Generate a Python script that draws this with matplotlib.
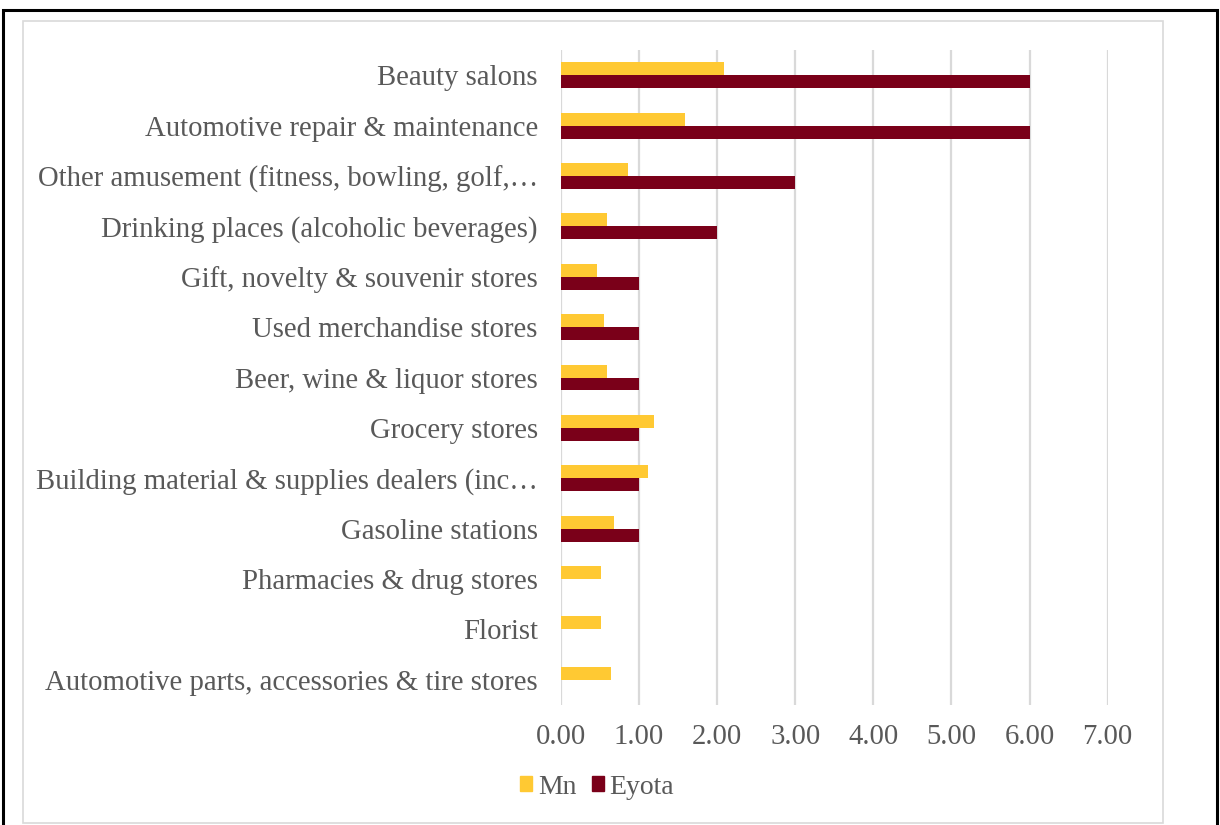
import matplotlib.pyplot as plt
import numpy as np
from matplotlib.patches import Rectangle, Patch

categories = [
    "Beauty salons",
    "Automotive repair & maintenance",
    "Other amusement (fitness, bowling, golf,\u2026",
    "Drinking places (alcoholic beverages)",
    "Gift, novelty & souvenir stores",
    "Used merchandise stores",
    "Beer, wine & liquor stores",
    "Grocery stores",
    "Building material & supplies dealers (inc\u2026",
    "Gasoline stations",
    "Pharmacies & drug stores",
    "Florist",
    "Automotive parts, accessories & tire stores",
]
mn = [2.09, 1.59, 0.86, 0.59, 0.47, 0.55, 0.59, 1.19, 1.12, 0.68, 0.51, 0.52, 0.64]
eyota = [6, 6, 3, 2, 1, 1, 1, 1, 1, 1, 0, 0, 0]
xticks = [0, 1, 2, 3, 4, 5, 6, 7]

mn_color = "#FFC933"
eyota_color = "#7A0019"
txt_color = "#595959"

plt.rcParams['font.family'] = ['Liberation Serif', 'DejaVu Serif']

W, H = 1220, 825
fig = plt.figure(figsize=(W / 100, H / 100), dpi=100)

# frame lines around the chart
fig.patches.append(Rectangle((3 / W, -0.01), 1214 / W, 1.01 - 10 / H, transform=fig.transFigure,
                             fill=False, edgecolor="black", linewidth=2.2))
fig.patches.append(Rectangle((23 / W, 2 / H), 1140 / W, (H - 21 - 2) / H, transform=fig.transFigure,
                             fill=False, edgecolor="#d9d9d9", linewidth=1.2))

ax = fig.add_axes([560.7 / W, 120 / H, 547 / W, 655 / H])

n = len(categories)
y = np.arange(n)[::-1]
h = 0.258
ax.barh(y + h / 2, mn, height=h, color=mn_color, zorder=3)
ax.barh(y - h / 2, eyota, height=h, color=eyota_color, zorder=3)

ax.set_xlim(0, 7)
ax.set_ylim(-0.5, n - 0.5)
ax.set_xticks(xticks)
ax.set_xticklabels(["%.2f" % v for v in xticks])
ax.set_yticks(y)
ax.set_yticklabels(categories)
ax.tick_params(axis='both', length=0, labelsize=20.7, colors=txt_color)
ax.tick_params(axis='y', pad=16.5)
ax.tick_params(axis='x', pad=14)
ax.grid(axis='x', color="#d9d9d9", linewidth=1.6, zorder=0)
for s in ax.spines.values():
    s.set_visible(False)

handles = [Patch(color=mn_color, label="Mn"), Patch(color=eyota_color, label="Eyota")]
fig.legend(handles=handles, loc="center", bbox_to_anchor=(597 / W, 1 - 787 / H), ncol=2,
           frameon=False, fontsize=20, labelcolor=txt_color, handlelength=0.45, handleheight=0.45,
           handletextpad=0.2, columnspacing=0.55)

fig.savefig("out.png", dpi=100)
